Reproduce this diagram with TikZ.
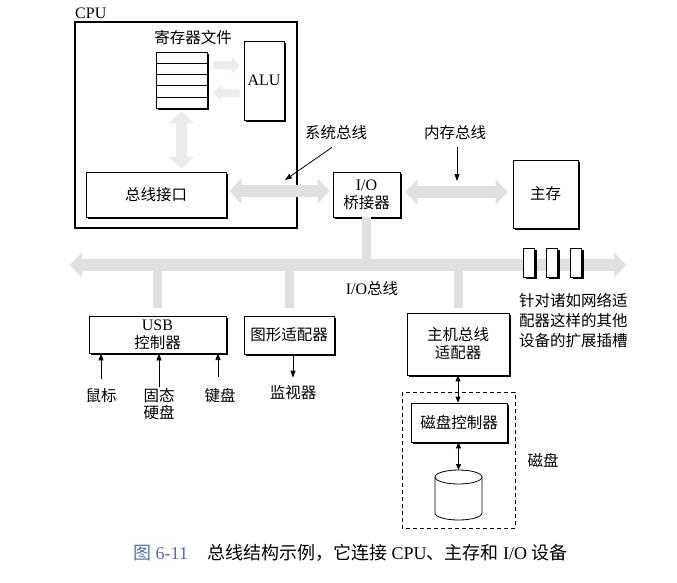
\documentclass[tikz,border=0pt]{standalone}
\usepackage{fontspec}
\setmainfont{Liberation Serif}
\newfontfamily\cjk{Noto Sans CJK SC}
\usetikzlibrary{arrows.meta,shadows,calc}
\definecolor{capblue}{RGB}{80,110,180}
\definecolor{busgray}{RGB}{224,224,224}
\definecolor{faintgray}{RGB}{236,236,236}
\newcommand\zh{\cjk\fontsize{15.5}{20}\selectfont}
\newcommand\lat{\rmfamily\fontsize{16}{20}\selectfont}
\newcommand\capfont{\rmfamily\fontsize{18}{20}\selectfont}
\begin{document}
\begin{tikzpicture}[x=1pt,y=-1pt,
  box/.style={draw, fill=white, line width=0.8pt, inner sep=0pt, align=center, font=\zh,
    drop shadow={shadow xshift=2pt,shadow yshift=-2pt,fill=black,opacity=1}},
  lbl/.style={inner sep=0pt, align=center, font=\zh},
  arr/.style={line width=0.8pt, -{Triangle[length=7pt,width=5pt]}},
  darr/.style={line width=0.8pt, {Triangle[length=6pt,width=5pt]}-{Triangle[length=6pt,width=5pt]}},
  bus/.style={draw=busgray, line width=12pt, {Triangle[length=12pt,width=25pt]}-{Triangle[length=12pt,width=25pt]}},
  fbus/.style={draw=faintgray, line width=8pt, -{Triangle[length=8pt,width=16pt]}},
  drop/.style={draw=busgray, line width=9pt}]
\useasboundingbox (0,0) rectangle (677,582);

% I/O bus (drawn first, behind everything)
\coordinate (iol) at (70,265);
\coordinate (ior) at (626,265);
\draw[bus] (iol) -- (ior);

% CPU
\node[draw, line width=1.2pt, minimum width=222pt, minimum height=206pt, inner sep=0pt] (cpu) at (186,125) {};
\node[anchor=base west, inner sep=0pt, font=\lat] (cpulbl) at (75,18) {CPU};
\node[lbl] (rflbl) at (193,38) {寄存器文件};
\node[box, minimum width=51pt, minimum height=56pt] (regs) at (181.5,80) {};
\foreach \i in {1,...,4}
  \draw[line width=0.8pt] ($(regs.north west)!\i/5!(regs.south west)$) -- ($(regs.north east)!\i/5!(regs.south east)$);
\node[box, minimum width=40pt, minimum height=79pt, font=\lat] (alu) at (264,80.5) {ALU};
\node[box, minimum width=140pt, minimum height=45pt] (busif) at (156,194.5) {总线接口};

\draw[fbus] ($(regs.east)+(6,-15)$) -- ($(alu.west)+(-4,-15)$);
\draw[fbus] ($(alu.west)+(-4,13)$) -- ($(regs.east)+(6,13)$);
\draw[bus, draw=faintgray!90!busgray, line width=11pt] ([yshift=-3pt]regs.south) -- ([yshift=3pt]regs.south |- busif.north);

% bridge and memory
\node[box, minimum width=67pt, minimum height=45pt] (bridge) at (366.5,194.5) {{\lat I/O}\\[-2pt]桥接器};
\node[box, minimum width=65pt, minimum height=68pt] (mem) at (545.5,194) {主存};
\draw[bus] ([xshift=3pt]busif.east |- 0,191) -- ([xshift=-3pt]bridge.west |- 0,191);
\draw[bus] ([xshift=5pt]bridge.east |- 0,192) -- ([xshift=-5pt]mem.west |- 0,192);
\draw[drop] (bridge.south) -- (bridge.south |- iol);

\node[lbl] (syslbl) at (336,133) {系统总线};
\coordinate (sysend) at (285,180);
\draw[arr] ([xshift=-4pt,yshift=-7pt]syslbl.south) -- (sysend);
\node[lbl] (memlbl) at (455,133) {内存总线};
\coordinate (memend) at (457,181);
\draw[arr] ([xshift=2pt,yshift=-7pt]memlbl.south) -- (memend);

% expansion slots
\node[box, minimum width=11pt, minimum height=29pt] (slot1) at (529,262.5) {};
\node[box, minimum width=11pt, minimum height=29pt] (slot2) at (552,262.5) {};
\node[box, minimum width=11pt, minimum height=29pt] (slot3) at (576,262.5) {};
\node[lbl, anchor=north west, align=left] (slotlbl) at (519,293) {针对诸如网络适\\配器这样的其他\\设备的扩展插槽};
\node[lbl] (iolbl) at (372,289) {{\lat I/O}总线};

% I/O devices
\node[box, minimum width=137pt, minimum height=37pt] (usb) at (157.5,334.5) {{\lat USB}\\[-2pt]控制器};
\node[box, minimum width=90pt, minimum height=38pt] (gfx) at (289,335) {图形适配器};
\node[box, minimum width=102pt, minimum height=62pt] (hba) at (458,344) {主机总线\\[-2pt]适配器};
\draw[drop] (usb.north |- iol) -- ([yshift=8pt]usb.north);
\draw[drop] (gfx.north |- iol) -- ([yshift=8pt]gfx.north);
\draw[drop] (hba.north |- iol) -- ([yshift=5pt]hba.north);

\node[lbl] (mouse) at (101,396) {鼠标};
\node[lbl] (ssd) at (159,404) {固态\\[-3pt]硬盘};
\node[lbl] (kbd) at (220,396) {键盘};
\node[lbl] (mon) at (293,393) {监视器};
\coordinate (kbdin) at (218,353);
\draw[arr] ([yshift=10pt]mouse.north) -- (mouse.north |- usb.south);
\draw[arr] ([yshift=1pt]ssd.north) -- (ssd.north |- usb.south);
\draw[arr] (kbdin |- 0,377) -- (kbdin);
\draw[arr] (mon.north |- gfx.south) -- ([yshift=8pt]mon.north);

% disk
\draw[dashed, line width=0.7pt, dash pattern=on 4pt off 3pt] (402,392) rectangle (515,528);
\node[box, minimum width=96pt, minimum height=39pt] (dctl) at (459,422.5) {磁盘控制器};
\coordinate (disk) at (458.5,477);
\draw[line width=0.8pt, fill=white] (435,477) -- (435,513) arc[start angle=180, end angle=0, x radius=23.5, y radius=7] -- (482,477);
\draw[line width=0.8pt, fill=white] (disk) ellipse [x radius=23.5, y radius=7];
\draw[darr] (hba.south) -- (hba.south |- dctl.north);
\draw[darr] (dctl.south -| disk) -- ($(disk)+(0,-7)$);
\node[lbl] (disklbl) at (543,460) {磁盘};

% caption
\node[anchor=base west, inner sep=0pt, text=capblue, font=\capfont] (fig) at (133,559) {{\cjk 图} 6-11};
\node[anchor=base west, inner sep=0pt, font=\capfont] (cap) at (207,559) {{\cjk 总线结构示例，它连接} CPU{\cjk 、主存和} I/O {\cjk 设备}};
\end{tikzpicture}
\end{document}
